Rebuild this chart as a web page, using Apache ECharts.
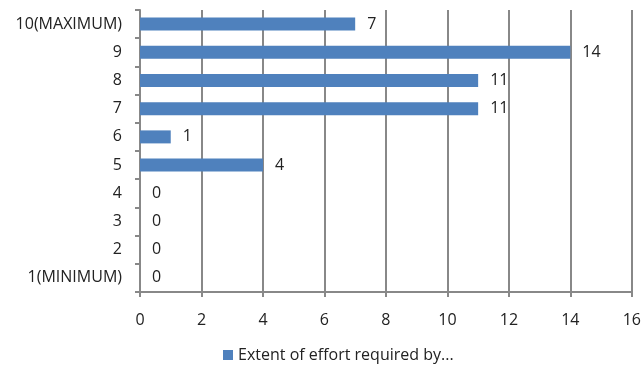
<!DOCTYPE html>
<html><head><meta charset="utf-8">
<script src="https://cdn.jsdelivr.net/npm/echarts@6/dist/echarts.min.js"></script>
<style>html,body{margin:0;padding:0;background:#fff}#c{width:644px;height:374px}</style>
</head><body><div id="c"></div>
<script>
const categories = ['1(MINIMUM)','2','3','4','5','6','7','8','9','10(MAXIMUM)'];
const values = [0,0,0,0,4,1,11,11,14,7];
const seriesName = 'Extent of effort required by...';
const xTicks = {min:0, max:16, interval:2};
const chart = echarts.init(document.getElementById('c'), null, {renderer:'canvas'});
const font = 'Open Sans';
chart.setOption({
  animation:false,
  grid:{left:140, right:12, top:10, bottom:82},
  xAxis:{type:'value', min:xTicks.min, max:xTicks.max, interval:xTicks.interval,
    axisLine:{show:true, lineStyle:{color:'#888', width:2}},
    axisTick:{show:true, length:5, lineStyle:{color:'#888', width:2}},
    splitLine:{show:true, lineStyle:{color:'#888', width:2}},
    axisLabel:{color:'#222', fontFamily:font, fontSize:16, margin:20}},
  yAxis:{type:'category', data:categories,
    axisLine:{show:true, lineStyle:{color:'#888', width:2}},
    axisTick:{show:true, length:5, lineStyle:{color:'#888', width:2}},
    axisLabel:{color:'#222', fontFamily:font, fontSize:16, margin:18}},
  legend:{bottom:6, left:218, itemWidth:10, itemHeight:10, itemGap:6, icon:'rect',
    textStyle:{color:'#222', fontFamily:font, fontSize:16}},
  series:[{name:seriesName, type:'bar', data:values, barWidth:13,
    itemStyle:{color:'#4f81bd'},
    label:{show:true, position:'right', distance:12, color:'#222', fontFamily:font, fontSize:16}}]
});
</script></body></html>
